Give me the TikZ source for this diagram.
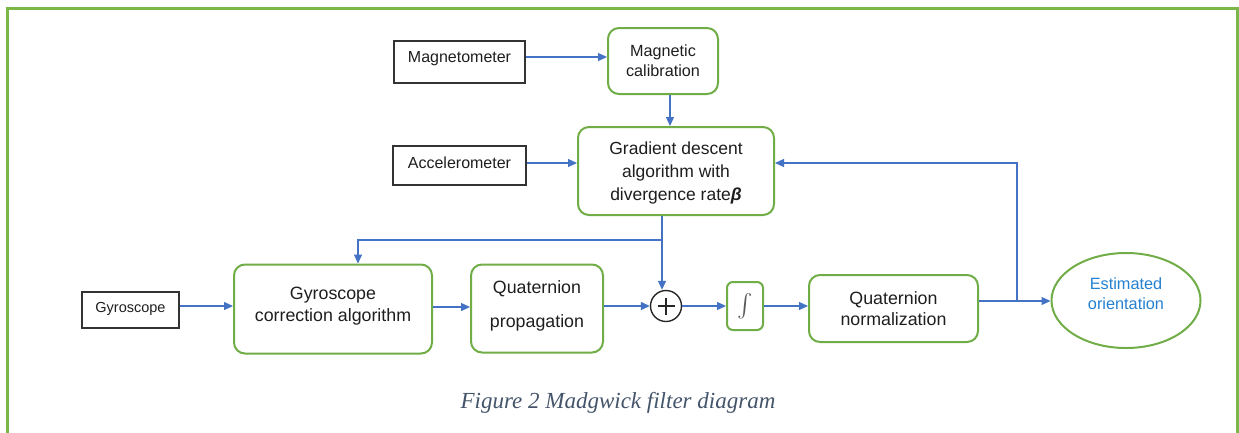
\documentclass[tikz,border=0pt]{standalone}
\usepackage{fontspec}
\usepackage{graphicx}
\setmainfont{Liberation Sans}
\newfontfamily\capfont{Liberation Serif}
\usetikzlibrary{arrows.meta,shapes.geometric}
\definecolor{boxgreen}{HTML}{70AD47}
\definecolor{framegreen}{HTML}{7AB648}
\definecolor{arrblue}{HTML}{4472C4}
\definecolor{capgray}{HTML}{44546A}
\definecolor{estblue}{HTML}{2580D0}
\definecolor{txt}{HTML}{1E1E1E}
\begin{document}
\begin{tikzpicture}[x=1pt,y=-1pt,
  sensor/.style={draw=black!80, line width=1.4pt, inner sep=0pt, text=txt, font=\fontsize{16}{20}\selectfont, text height=11.7pt, text depth=10pt},
  gbox/.style={draw=boxgreen, line width=2pt, rounded corners=11pt, inner sep=0pt, align=center, text=txt, font=\fontsize{17.5}{22.5}\selectfont},
  arr/.style={draw=arrblue, line width=1.3pt, -{Triangle[length=9pt,width=8pt]}},
  conn/.style={draw=arrblue, line width=1.3pt},
]
\useasboundingbox (0,0) rectangle (1239,432);
\draw[framegreen, line width=3pt] (7,440) -- (7,8) -- (1237,8) -- (1237,440);

% nodes
\node[sensor, minimum width=131pt, minimum height=42pt] (mag) at (459.5,62) {Magnetometer};
\node[gbox, font=\fontsize{16.2}{20}\selectfont, minimum width=110pt, minimum height=66pt] (magcal) at (663,61) {Magnetic\\calibration};
\node[gbox, font=\fontsize{17.5}{23}\selectfont, text depth=0.5pt, minimum width=196pt, minimum height=88pt] (grad) at (676,171) {Gradient descent\\algorithm with\\divergence rate\textbf{\textit{β}}};
\node[sensor, text depth=6pt, minimum width=133pt, minimum height=39pt] (acc) at (459.5,165.5) {Accelerometer};
\node[sensor, font=\fontsize{14.5}{18}\selectfont, text height=10.6pt, text depth=6.2pt, minimum width=97pt, minimum height=36pt] (gyro) at (130.5,310) {Gyroscope};
\node[gbox, font=\fontsize{17.8}{22}\selectfont, text depth=10.2pt, minimum width=198pt, minimum height=89pt] (gcorr) at (333,309) {Gyroscope\\correction algorithm};
\node[gbox, font=\fontsize{17.8}{23}\selectfont, text depth=9.4pt, minimum width=132pt, minimum height=88pt] (qprop) at (537,308.5) {Quaternion\\[11pt]propagation};
\node[circle, draw=black!85, line width=1.4pt, minimum size=31pt, inner sep=0pt] (plus) at (666,306) {};
\draw[black!85, line width=1.4pt] ([xshift=-8.5pt]plus.center) -- ([xshift=8.5pt]plus.center)
  ([yshift=-8.5pt]plus.center) -- ([yshift=8.5pt]plus.center);
\node[gbox, rounded corners=6pt, minimum width=36pt, minimum height=48pt, text=black!65] (integ) at (745,306) {\scalebox{2.3}{$\int$}};
\node[gbox, font=\fontsize{17.8}{21}\selectfont, minimum width=169pt, minimum height=67pt] (qnorm) at (893.5,308.5) {Quaternion\\normalization};
\node[ellipse, draw=boxgreen, line width=2pt, minimum width=149pt, minimum height=95pt, inner sep=0pt, align=center, text=estblue, font=\fontsize{16.3}{20}\selectfont] (est) at (1126,300.5) {Estimated\\orientation\\[-6pt]\mbox{}};

\node[font=\capfont\itshape\fontsize{23}{28}\selectfont, text=capgray, anchor=base] (cap) at (618,408) {Figure 2 Madgwick filter diagram};

% junctions
\coordinate (dj) at (662,240);
\coordinate (gl) at (358,240);
\coordinate (fbj) at (1017,301);
\coordinate (fbt) at (1017,163);

% connectors
\draw[arr] ([yshift=5pt]mag.east) -- ([yshift=5pt]mag.east -| magcal.west);
\draw[arr] ([xshift=7pt]magcal.south) -- ([xshift=7pt]magcal.south |- grad.north);
\draw[arr] ([yshift=2.5pt]acc.east) -- ([yshift=2.5pt]acc.east -| grad.west);
\draw[conn] (grad.south -| dj) -- (dj);
\draw[arr] (dj) -- (dj |- plus.north);
\draw[arr] (dj) -- (gl) -- (gl |- gcorr.north);
\draw[arr] ([yshift=4pt]gyro.east) -- ([yshift=4pt]gyro.east -| gcorr.west);
\draw[arr] ([yshift=2pt]gcorr.east) -- ([yshift=2pt]gcorr.east -| qprop.west);
\draw[arr] (qprop.east |- plus) -- (plus.west);
\draw[arr] (plus.east) -- (integ.west);
\draw[arr] (integ.east) -- (integ.east -| qnorm.west);
\draw[arr] (qnorm.east |- fbj) -- (est.west |- fbj);
\draw[arr] (fbj) -- (fbt) -- (fbt -| grad.east);
\end{tikzpicture}
\end{document}
